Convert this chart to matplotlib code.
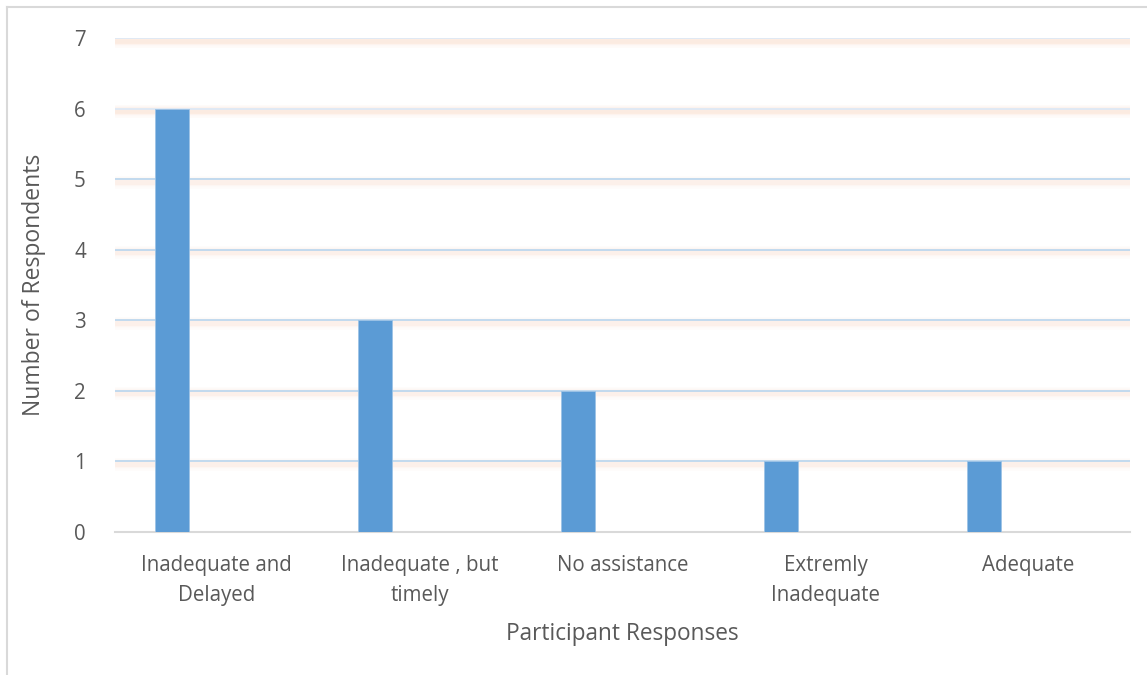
import matplotlib
matplotlib.use("Agg")
import matplotlib.pyplot as plt
from matplotlib import transforms
from matplotlib.lines import Line2D

categories = ["Inadequate and\nDelayed", "Inadequate , but\ntimely", "No assistance",
              "Extremly\nInadequate", "Adequate"]
respondents = [6, 3, 2, 1, 1]
y_ticks = [0, 1, 2, 3, 4, 5, 6, 7]

plt.rcParams['font.family'] = ['Open Sans', 'DejaVu Sans']
text_color = "#595959"

fig = plt.figure(figsize=(11.47, 6.75), dpi=100)
ax = fig.add_axes([115 / 1147, 1 - 532 / 675, (1130 - 115) / 1147, (532 - 38) / 675])

# outer chart border (left and top edges)
fig.add_artist(Line2D([7 / 1147, 7 / 1147], [0, 1 - 7 / 675], transform=fig.transFigure,
                      color="#d9d9d9", lw=1.5))
fig.add_artist(Line2D([7 / 1147, 1], [1 - 7 / 675, 1 - 7 / 675], transform=fig.transFigure,
                      color="#d9d9d9", lw=1.5))

ax.set_xlim(-0.5, len(categories) - 0.5)
ax.set_ylim(0, 7)

# gridlines with a soft orange glow underneath
for v in y_ticks[1:]:
    glow_tr = transforms.offset_copy(ax.transData, fig=fig, x=0, y=-2.5, units='dots')
    strength = 1.4 if v >= 6 else 1.0
    for lw, a in [(9, 0.04), (6, 0.06), (3.5, 0.08)]:
        ax.plot([-0.5, len(categories) - 0.5], [v, v], transform=glow_tr,
                color="#f4b183", lw=lw, alpha=a * strength, solid_capstyle='round', zorder=1)
    line_color = "#dde8f5" if v >= 6 else "#bdd7ee"
    ax.plot([-0.5, len(categories) - 0.5], [v, v], color=line_color, lw=1.3, zorder=2)

bar_w = 0.168
xs = [i - 0.303 for i in range(len(categories))]
ax.bar(xs, respondents, width=bar_w, align='edge', color="#5b9bd5",
       edgecolor="#9dc3e6", linewidth=0.6, zorder=3)

for s in ["top", "right", "left"]:
    ax.spines[s].set_visible(False)
ax.spines["bottom"].set_color("#d9d9d9")
ax.spines["bottom"].set_linewidth(1.5)

ax.set_yticks(y_ticks)
ax.set_xticks(range(len(categories)))
ax.set_xticklabels(categories, linespacing=1.55)
ax.tick_params(axis='both', length=0, colors=text_color, labelsize=14.8)
ax.tick_params(axis='y', pad=21)
ax.tick_params(axis='x', pad=16.5)

ax.set_ylabel("Number of Respondents", fontsize=16.5, color=text_color, labelpad=20)
ax.set_xlabel("Participant Responses", fontsize=16.3, color=text_color, labelpad=12)

fig.savefig("out.png", dpi=100)
